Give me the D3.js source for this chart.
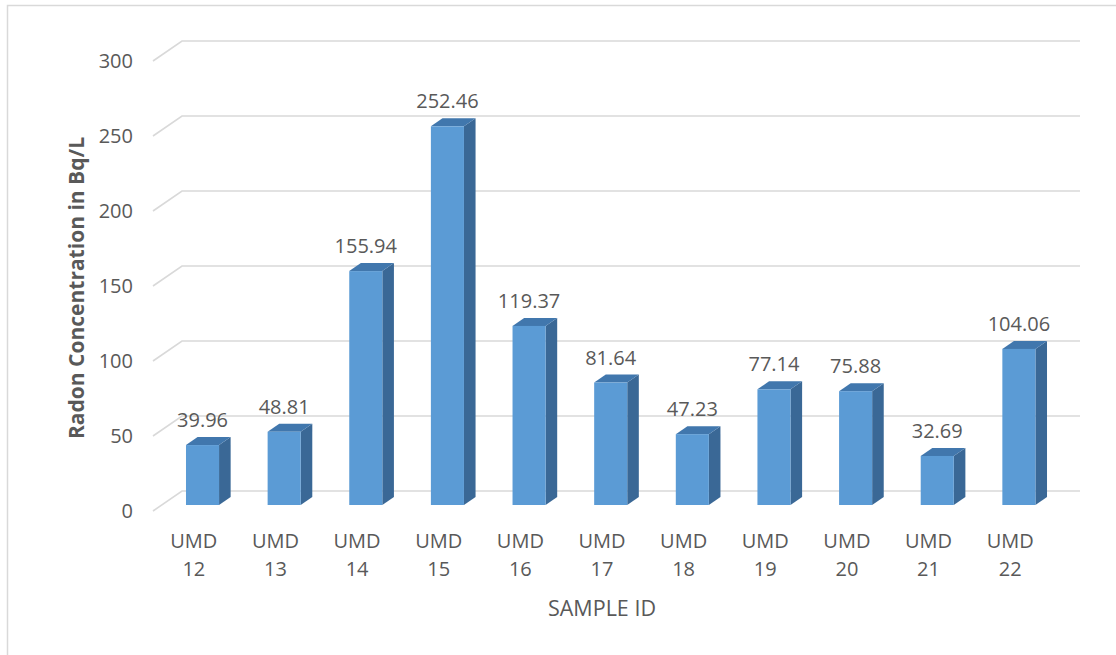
<!DOCTYPE html>
<html>
<head>
<meta charset="utf-8">
<script src="https://cdn.jsdelivr.net/npm/d3@7"></script>
<style>
  html, body { margin: 0; padding: 0; background: #fff; }
  svg { display: block; font-family: "Open Sans", "Noto Sans", sans-serif; }
</style>
</head>
<body>
<svg id="chart" width="1116" height="655"></svg>
<script>
// Radon concentration per sample
const sampleIds = ["UMD 12", "UMD 13", "UMD 14", "UMD 15", "UMD 16", "UMD 17",
                   "UMD 18", "UMD 19", "UMD 20", "UMD 21", "UMD 22"];
const radonValues = [39.96, 48.81, 155.94, 252.46, 119.37, 81.64,
                     47.23, 77.14, 75.88, 32.69, 104.06];
const yTicks = [0, 50, 100, 150, 200, 250, 300];

const svg = d3.select("#chart");
const textColor = "#595959";
const gridColor = "#d9d9d9";

// Front edge of the floor; the back wall is offset by the depth vector
const x = d3.scaleBand().domain(sampleIds).range([153, 1051]).padding(0);
const y = d3.scaleLinear().domain([0, 300]).range([511, 61]);
const depth = { dx: 29, dy: -20 };
const backRight = 1080;

// Outer chart frame
svg.append("rect")
  .attr("x", 7.5).attr("y", 5.5)
  .attr("width", 1130).attr("height", 670)
  .attr("fill", "none").attr("stroke", gridColor).attr("stroke-width", 1.5);

// Gridlines: short diagonal on the left side wall, then along the back wall
const grid = svg.append("g");
yTicks.forEach(v => {
  const fx = x.range()[0], fy = y(v);
  grid.append("path")
    .attr("d", `M${fx},${fy} L${fx + depth.dx},${fy + depth.dy} L${backRight},${fy + depth.dy}`)
    .attr("fill", "none").attr("stroke", gridColor).attr("stroke-width", 1.6);
});

// Y tick labels
svg.append("g").selectAll("text").data(yTicks).join("text")
  .attr("x", 133).attr("y", d => y(d)).attr("dy", "0.35em")
  .attr("text-anchor", "end").attr("fill", textColor)
  .attr("font-size", 20).text(d => d);

// Bars as prisms: front face, side face, top face
const f0 = 0.3, f1 = 0.7;       // depth fractions of bar front/back
const barFrac = 0.405;          // bar width as share of band
const bars = svg.append("g");
sampleIds.forEach((id, i) => {
  const v = radonValues[i];
  const cx = x(id) + x.bandwidth() / 2;
  const w = x.bandwidth() * barFrac;
  const ox = depth.dx * f0, oy = depth.dy * f0;
  const ddx = depth.dx * (f1 - f0), ddy = depth.dy * (f1 - f0);
  const x0 = cx - w / 2 + ox, x1 = cx + w / 2 + ox;
  const yb = y(0) + oy, yt = y(v) + oy;

  bars.append("path")
    .attr("d", `M${x1},${yb} L${x1 + ddx},${yb + ddy} L${x1 + ddx},${yt + ddy} L${x1},${yt} Z`)
    .attr("fill", "#3a6896");
  bars.append("path")
    .attr("d", `M${x0},${yt} L${x0 + ddx},${yt + ddy} L${x1 + ddx},${yt + ddy} L${x1},${yt} Z`)
    .attr("fill", "#4177ad");
  bars.append("rect")
    .attr("x", x0).attr("y", yt).attr("width", w).attr("height", yb - yt)
    .attr("fill", "#5b9bd5");

  bars.append("text")
    .attr("x", (x0 + x1) / 2).attr("y", yt - 18)
    .attr("text-anchor", "middle").attr("fill", textColor)
    .attr("font-size", 20).text(v.toFixed(2));
});

// Category labels on two lines
const cat = svg.append("g").selectAll("text").data(sampleIds).join("text")
  .attr("text-anchor", "middle").attr("fill", textColor).attr("font-size", 20);
cat.each(function(d) {
  const parts = d.split(" ");
  const cx = x(d) + x.bandwidth() / 2;
  d3.select(this).append("tspan").attr("x", cx).attr("y", 548).text(parts[0]);
  d3.select(this).append("tspan").attr("x", cx).attr("y", 576).text(parts[1]);
});

// Axis titles
svg.append("text")
  .attr("x", 602).attr("y", 616).attr("text-anchor", "middle")
  .attr("fill", textColor).attr("font-size", 21.5).text("SAMPLE ID");

svg.append("text")
  .attr("transform", "translate(84,288) rotate(-90)")
  .attr("text-anchor", "middle").attr("fill", textColor)
  .attr("font-size", 21).attr("font-weight", "bold")
  .text("Radon Concentration in Bq/L");
</script>
</body>
</html>
